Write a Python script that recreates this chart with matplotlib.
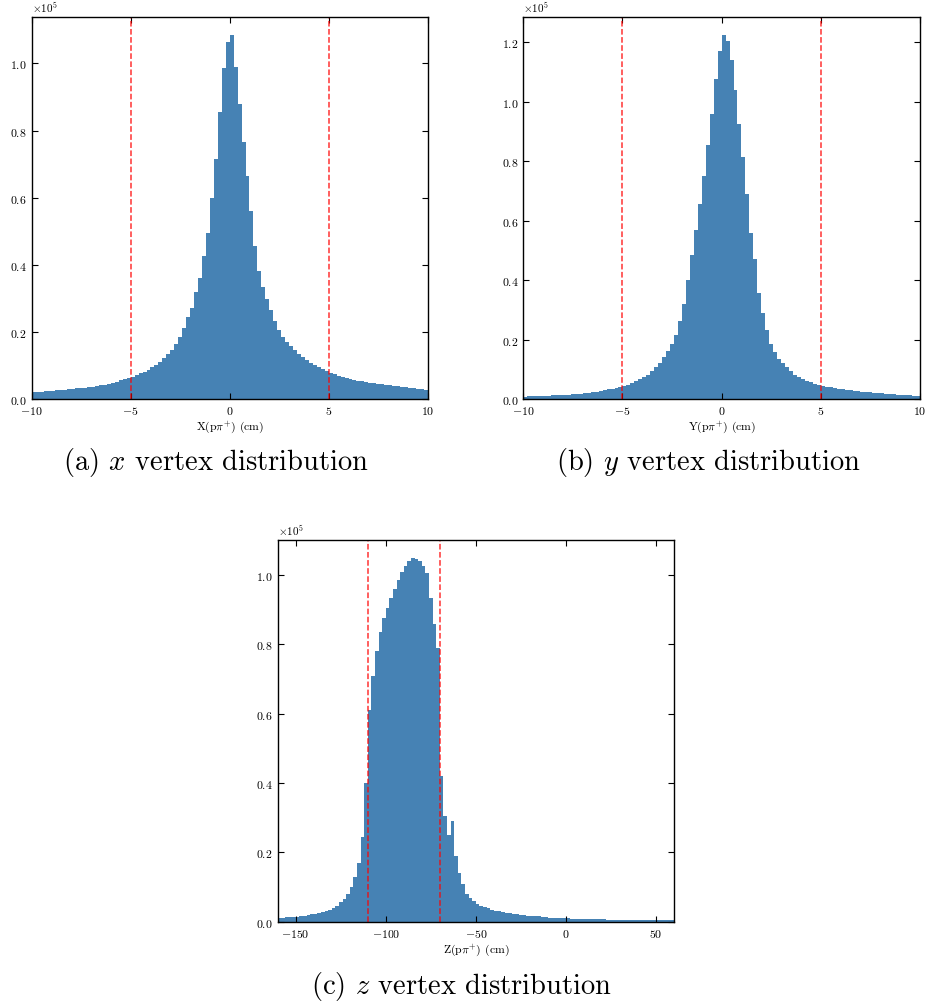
import numpy as np
import matplotlib
matplotlib.use('Agg')
import matplotlib.pyplot as plt

plt.rcParams['font.family'] = 'serif'
plt.rcParams['font.serif'] = ['cmr10']
plt.rcParams['mathtext.fontset'] = 'cm'
plt.rcParams['axes.formatter.use_mathtext'] = True
plt.rcParams['axes.unicode_minus'] = True

# bin contents in units of 1e5 entries
# x vertex, 0.2 cm bins from -10 to 10
x_counts = [0.020, 0.021, 0.022, 0.023, 0.024, 0.025, 0.026, 0.027, 0.028, 0.030,
            0.031, 0.032, 0.033, 0.034, 0.036, 0.037, 0.039, 0.041, 0.043, 0.046,
            0.049, 0.052, 0.056, 0.060, 0.064, 0.067, 0.071, 0.076, 0.081, 0.087,
            0.094, 0.101, 0.111, 0.122, 0.134, 0.147, 0.163, 0.184, 0.212, 0.245,
            0.270, 0.318, 0.360, 0.425, 0.495, 0.600, 0.715, 0.855, 0.985, 1.065,
            1.085, 0.990, 0.880, 0.765, 0.665, 0.560, 0.455, 0.380, 0.335, 0.298,
            0.265, 0.232, 0.207, 0.186, 0.171, 0.158, 0.146, 0.134, 0.124, 0.116,
            0.108, 0.101, 0.095, 0.089, 0.083, 0.078, 0.073, 0.069, 0.065, 0.062,
            0.059, 0.057, 0.055, 0.053, 0.051, 0.049, 0.047, 0.045, 0.044, 0.042,
            0.041, 0.039, 0.038, 0.036, 0.035, 0.033, 0.032, 0.031, 0.029, 0.028]

# y vertex, 0.2 cm bins from -10 to 10
y_counts = [0.008, 0.009, 0.009, 0.010, 0.010, 0.011, 0.011, 0.012, 0.013, 0.013,
            0.014, 0.015, 0.016, 0.017, 0.018, 0.020, 0.021, 0.023, 0.025, 0.027,
            0.029, 0.032, 0.035, 0.038, 0.041, 0.044, 0.048, 0.053, 0.059, 0.066,
            0.073, 0.082, 0.093, 0.106, 0.122, 0.141, 0.160, 0.185, 0.215, 0.262,
            0.320, 0.400, 0.485, 0.570, 0.655, 0.750, 0.855, 0.960, 1.075, 1.170,
            1.225, 1.205, 1.140, 1.040, 0.925, 0.815, 0.690, 0.560, 0.470, 0.355,
            0.290, 0.232, 0.185, 0.158, 0.135, 0.120, 0.108, 0.093, 0.082, 0.074,
            0.067, 0.062, 0.057, 0.052, 0.048, 0.045, 0.042, 0.039, 0.037, 0.035,
            0.033, 0.031, 0.029, 0.028, 0.026, 0.025, 0.024, 0.022, 0.021, 0.020,
            0.019, 0.018, 0.017, 0.016, 0.015, 0.014, 0.013, 0.012, 0.011, 0.011]

# z vertex, 2 cm bins from -160 to 60
z_counts = [0.012, 0.012, 0.013, 0.013, 0.014, 0.014, 0.015, 0.017, 0.019, 0.021,
            0.023, 0.025, 0.028, 0.031, 0.035, 0.040, 0.046, 0.057, 0.066, 0.080,
            0.100, 0.128, 0.170, 0.245, 0.400, 0.610, 0.710, 0.780, 0.835, 0.875,
            0.905, 0.935, 0.960, 0.985, 1.010, 1.025, 1.040, 1.050, 1.048, 1.040,
            1.025, 1.005, 0.935, 0.860, 0.790, 0.420, 0.306, 0.250, 0.290, 0.190,
            0.140, 0.110, 0.080, 0.068, 0.060, 0.050, 0.045, 0.041, 0.038, 0.035,
            0.032, 0.030, 0.028, 0.026, 0.024, 0.022, 0.021, 0.019, 0.018, 0.017,
            0.016, 0.015, 0.015, 0.014, 0.013, 0.012, 0.012, 0.011, 0.011, 0.010,
            0.010, 0.009, 0.009, 0.009, 0.008, 0.008, 0.008, 0.007, 0.007, 0.007,
            0.007, 0.006, 0.006, 0.006, 0.006, 0.006, 0.005, 0.005, 0.005, 0.005,
            0.005, 0.005, 0.005, 0.004, 0.004, 0.004, 0.004, 0.004, 0.004, 0.004]

xy_edges = np.linspace(-10, 10, 101)
z_edges = np.linspace(-160, 60, 111)

x_cuts = [-5, 5]
y_cuts = [-5, 5]
z_cuts = [-110, -70]

labels = [r'X(p$\pi^{+}$) (cm)', r'Y(p$\pi^{+}$) (cm)', r'Z(p$\pi^{+}$) (cm)']
captions = [r'(a) $x$ vertex distribution', r'(b) $y$ vertex distribution',
            r'(c) $z$ vertex distribution']

fig = plt.figure(figsize=(9.26, 10.03), dpi=100)
ax_a = fig.add_axes([0.0342, 0.6012, 0.4277, 0.3812])
ax_b = fig.add_axes([0.5651, 0.6012, 0.4284, 0.3812])
ax_c = fig.add_axes([0.2999, 0.0801, 0.4280, 0.3809])

panels = [(ax_a, x_counts, xy_edges, x_cuts, (-10, 10), [-10, -5, 0, 5, 10]),
          (ax_b, y_counts, xy_edges, y_cuts, (-10, 10), [-10, -5, 0, 5, 10]),
          (ax_c, z_counts, z_edges, z_cuts, (-160, 60), [-150, -100, -50, 0, 50])]

for i, (ax, counts, edges, cuts, xlim, xticks) in enumerate(panels):
    w = np.array(counts) * 1e5
    ax.hist(edges[:-1], bins=edges, weights=w, histtype='stepfilled',
            color='steelblue', linewidth=0)
    for c in cuts:
        ax.axvline(c, color='red', linestyle='--', linewidth=1.1, alpha=0.8)
    ax.set_xlim(xlim)
    ax.set_xticks(xticks)
    ax.set_ylim(0, max(w) * 1.05)
    ax.ticklabel_format(axis='y', style='sci', scilimits=(0, 0))
    ax.yaxis.get_offset_text().set_fontsize(8)
    ax.tick_params(direction='in', top=True, right=True, labelsize=8.5,
                   length=4, width=0.8)
    ax.set_xlabel(labels[i], fontsize=8.5, labelpad=2)
    for s in ax.spines.values():
        s.set_linewidth(1.0)

fig.text(0.2335, 0.539, captions[0], ha='center', va='center', fontsize=20.5)
fig.text(0.765, 0.539, captions[1], ha='center', va='center', fontsize=20.5)
fig.text(0.4985, 0.016, captions[2], ha='center', va='center', fontsize=20.5)

fig.savefig('out.png', dpi=100)
